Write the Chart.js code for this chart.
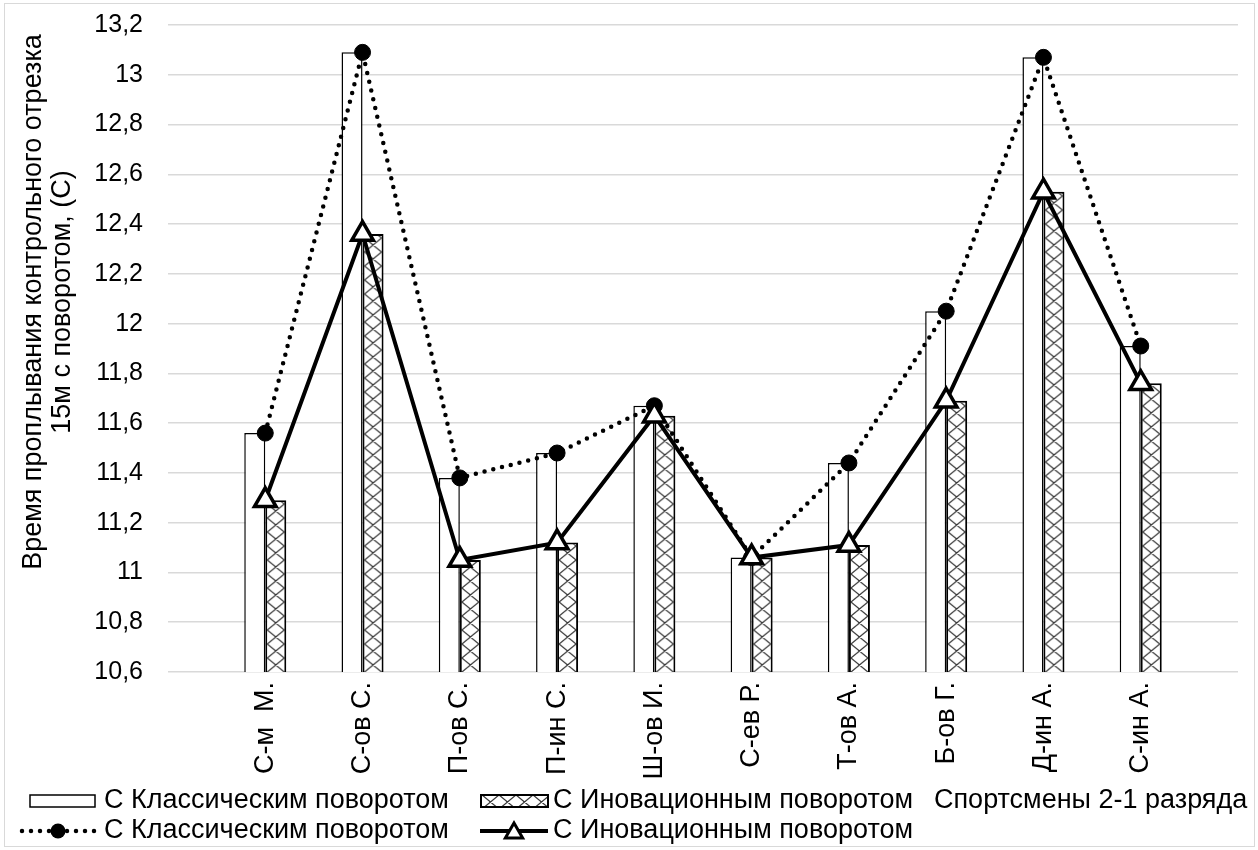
<!DOCTYPE html>
<html>
<head>
<meta charset="utf-8">
<script src="https://cdn.jsdelivr.net/npm/chart.js@4.4.1/dist/chart.umd.min.js"></script>
<style>
  html, body { margin: 0; padding: 0; background: #fff; }
  #wrap { position: relative; width: 1258px; height: 850px; }
</style>
</head>
<body>
<div id="wrap"><canvas id="c" width="1258" height="850"></canvas></div>
<script>
// Athletes and their 15 m split times (seconds)
const athletes = ['С-м  М.', 'С-ов С.', 'П-ов С.', 'П-ин С.', 'Ш-ов И.', 'С-ев Р.', 'Т-ов А.', 'Б-ов Г.', 'Д-ин А.', 'С-ин А.'];
const classicTimes = [11.56, 13.09, 11.38, 11.48, 11.67, 11.06, 11.44, 12.05, 13.07, 11.91];
const innovativeTimes = [11.29, 12.36, 11.05, 11.12, 11.63, 11.06, 11.11, 11.69, 12.53, 11.76];
const yTicks = [10.6, 10.8, 11, 11.2, 11.4, 11.6, 11.8, 12, 12.2, 12.4, 12.6, 12.8, 13, 13.2];
const seriesNames = ['С Классическим поворотом', 'С Иновационным поворотом'];
const groupName = 'Спортсмены 2-1 разряда';
const axisTitle = ['Время проплывания контрольного отрезка', '15м с поворотом, (С)'];

const FONT_FAMILY = "'Liberation Sans', Arial, sans-serif";
const FONT_SIZE = 27;
const TICK_FONT_SIZE = 25;

// empty slot at each end of the category axis
const labels = ['', ...athletes, ''];
const pad = arr => [null, ...arr, null];

// cross-hatch tile for the "innovative" bars
const HATCH_W = 17, HATCH_H = 14;
const hatchTile = (() => {
  const c = document.createElement('canvas');
  c.width = HATCH_W; c.height = HATCH_H;
  const g = c.getContext('2d');
  g.fillStyle = '#fff';
  g.fillRect(0, 0, HATCH_W, HATCH_H);
  g.strokeStyle = '#3a3a3a';
  g.lineWidth = 1.3;
  g.beginPath();
  for (let k = -1; k <= 1; k++) {
    g.moveTo(k * HATCH_W, 0); g.lineTo((k + 1) * HATCH_W, HATCH_H);
  }
  for (let k = 0; k <= 2; k++) {
    g.moveTo(k * HATCH_W, 0); g.lineTo((k - 1) * HATCH_W, HATCH_H);
  }
  g.stroke();
  return c;
})();

function hatchPattern(ctx, x0, y0) {
  const p = ctx.createPattern(hatchTile, 'repeat');
  if (p.setTransform) p.setTransform(new DOMMatrix([1, 0, 0, 1, x0, y0]));
  return p;
}

function fmtTick(v) {
  const r = Math.round(v * 10) / 10;
  return String(r).replace('.', ',');
}

const INNOV_BORDER = 2;

// title of the value axis, two rotated lines
const axisTitlePlugin = {
  id: 'axisTitleLines',
  afterDraw(chart) {
    const ctx = chart.ctx;
    ctx.save();
    ctx.fillStyle = '#000';
    ctx.font = `${FONT_SIZE}px ${FONT_FAMILY}`;
    ctx.textAlign = 'center';
    ctx.textBaseline = 'middle';
    const cy = 302;
    const xs = [34, 63];
    axisTitle.forEach((t, i) => {
      ctx.save();
      ctx.translate(xs[i], cy);
      ctx.rotate(-Math.PI / 2);
      ctx.fillText(t, 0, 0);
      ctx.restore();
    });
    ctx.restore();
  }
};

// legend block under the category labels
const legendPlugin = {
  id: 'legendBlock',
  afterDraw(chart) {
    const ctx = chart.ctx;
    ctx.save();
    ctx.font = `${FONT_SIZE}px ${FONT_FAMILY}`;
    ctx.fillStyle = '#000';
    ctx.textBaseline = 'middle';
    ctx.textAlign = 'left';
    const r1 = 801, r2 = 831;

    // row 1: bar swatches
    ctx.fillStyle = '#fff';
    ctx.fillRect(30, r1 - 6, 65, 12);
    ctx.strokeStyle = '#000';
    ctx.lineWidth = 1.5;
    ctx.strokeRect(30, r1 - 6, 65, 12);

    ctx.fillStyle = hatchPattern(ctx, 482, r1 - 6);
    ctx.fillRect(481, r1 - 6, 67, 12);
    ctx.lineWidth = 2;
    ctx.strokeRect(481, r1 - 6, 67, 12);

    ctx.fillStyle = '#000';
    ctx.fillText(seriesNames[0], 104, r1);
    ctx.fillText(seriesNames[1], 553, r1);
    ctx.fillText(groupName, 934, r1);

    // row 2: line swatches
    ctx.strokeStyle = '#000';
    ctx.lineWidth = 4.5;
    ctx.lineCap = 'round';
    ctx.setLineDash([0, 9]);
    ctx.beginPath();
    ctx.moveTo(22, r2); ctx.lineTo(95, r2);
    ctx.stroke();
    ctx.setLineDash([]);
    ctx.beginPath();
    ctx.arc(58, r2, 7.5, 0, Math.PI * 2);
    ctx.fill();

    ctx.lineCap = 'butt';
    ctx.lineWidth = 4;
    ctx.beginPath();
    ctx.moveTo(480, r2); ctx.lineTo(548, r2);
    ctx.stroke();
    const tr = 10;
    ctx.beginPath();
    for (let k = 0; k < 3; k++) {
      const a = k * 2 * Math.PI / 3;
      const px = 514 + Math.sin(a) * tr, py = r2 + 2 - Math.cos(a) * tr;
      if (k === 0) ctx.moveTo(px, py); else ctx.lineTo(px, py);
    }
    ctx.closePath();
    ctx.fillStyle = '#fff';
    ctx.fill();
    ctx.lineWidth = 3;
    ctx.lineJoin = 'miter';
    ctx.stroke();

    ctx.fillStyle = '#000';
    ctx.fillText(seriesNames[0], 104, r2);
    ctx.fillText(seriesNames[1], 553, r2);

    // outer frame of the chart
    ctx.strokeStyle = '#d9d9d9';
    ctx.lineWidth = 1;
    ctx.strokeRect(4.5, 3.5, 1250, 843);
    ctx.restore();
  }
};

const chart = new Chart(document.getElementById('c'), {
  data: {
    labels,
    datasets: [
      {
        type: 'line',
        label: seriesNames[1],
        data: pad(innovativeTimes),
        order: 0,
        borderColor: '#000',
        borderWidth: 4,
        pointStyle: 'triangle',
        pointRadius: 12.5,
        pointBackgroundColor: '#fff',
        pointBorderColor: '#000',
        pointBorderWidth: 3.5,
        tension: 0
      },
      {
        type: 'line',
        label: seriesNames[0],
        data: pad(classicTimes),
        order: 1,
        borderColor: '#000',
        borderWidth: 4.5,
        borderDash: [0, 9],
        borderCapStyle: 'round',
        pointStyle: 'circle',
        pointRadius: 8,
        pointBackgroundColor: '#000',
        pointBorderColor: '#000',
        pointBorderWidth: 1,
        tension: 0
      },
      {
        type: 'bar',
        label: seriesNames[0],
        data: pad(classicTimes),
        order: 2,
        backgroundColor: '#fff',
        borderColor: '#000',
        borderWidth: 1.5,
        categoryPercentage: 0.432,
        barPercentage: 1
      },
      {
        type: 'bar',
        label: seriesNames[1],
        data: pad(innovativeTimes),
        order: 3,
        backgroundColor: (c) => {
          const ch = c.chart;
          if (c.type !== 'data' || !ch.chartArea) return hatchPattern(ch.ctx, 0, 0);
          const x = ch.scales.x.getPixelForValue(c.dataIndex);
          return hatchPattern(ch.ctx, x + INNOV_BORDER, ch.chartArea.bottom);
        },
        borderColor: '#000',
        borderWidth: INNOV_BORDER,
        categoryPercentage: 0.432,
        barPercentage: 1
      }
    ]
  },
  options: {
    responsive: false,
    animation: false,
    events: [],
    layout: { padding: { left: 0, right: 20, top: 25, bottom: 68 } },
    plugins: {
      legend: { display: false },
      tooltip: { enabled: false }
    },
    scales: {
      x: {
        type: 'category',
        offset: false,
        grid: { display: false, drawTicks: false },
        border: { display: false },
        ticks: {
          autoSkip: false,
          maxRotation: 90,
          minRotation: 90,
          padding: 10,
          color: '#000',
          font: { family: FONT_FAMILY, size: FONT_SIZE }
        },
        afterFit: (s) => { s.height = 110; s.paddingLeft = 0; s.paddingRight = 0; }
      },
      y: {
        type: 'linear',
        min: 10.6,
        max: 13.2,
        grid: { color: '#d9d9d9', lineWidth: 1.5, drawTicks: false },
        border: { display: false },
        afterBuildTicks: (s) => { s.ticks = yTicks.map(v => ({ value: v })); },
        ticks: {
          padding: 25,
          color: '#000',
          font: { family: FONT_FAMILY, size: TICK_FONT_SIZE },
          callback: (v) => fmtTick(v)
        },
        afterFit: (s) => { s.width = 168; s.paddingTop = 0; s.paddingBottom = 0; }
      }
    }
  },
  plugins: [axisTitlePlugin, legendPlugin]
});
</script>
</body>
</html>
